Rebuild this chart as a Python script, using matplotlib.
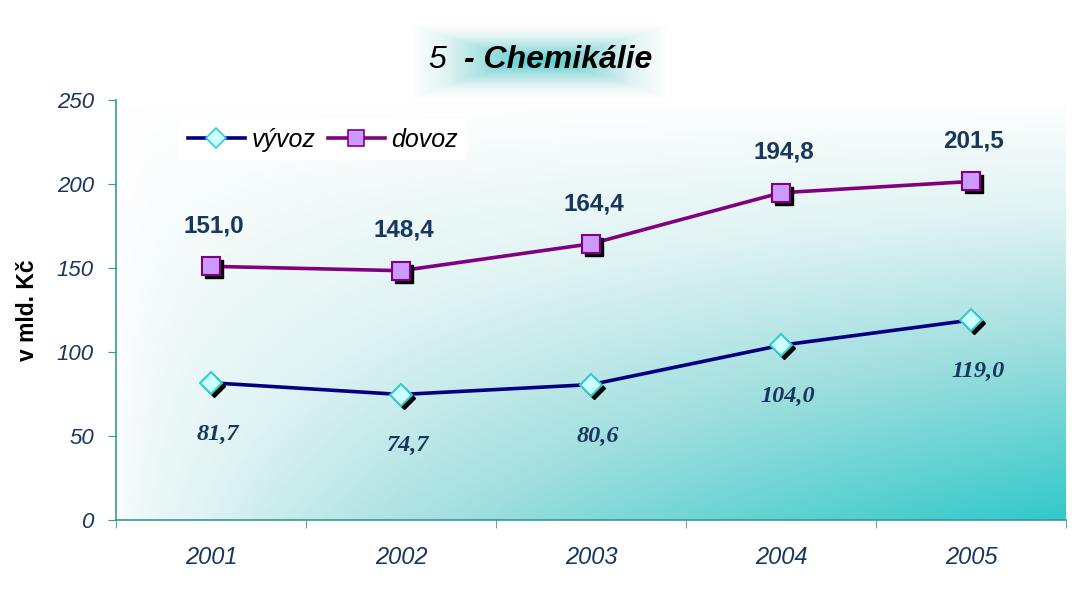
import numpy as np
import matplotlib
matplotlib.use('Agg')
import matplotlib.pyplot as plt
import matplotlib.transforms as mtransforms
from matplotlib.colors import LinearSegmentedColormap

# data
years = ['2001', '2002', '2003', '2004', '2005']
vyvoz = [81.7, 74.7, 80.6, 104.0, 119.0]
dovoz = [151.0, 148.4, 164.4, 194.8, 201.5]
yticks = [0, 50, 100, 150, 200, 250]

navy_txt = '#17375e'
teal_cmap = LinearSegmentedColormap.from_list(
    'teal', [(0, '#ffffff'), (0.3, '#e0f3f3'), (0.6, '#a2dfdf'), (1, '#33c9c9')])

fig = plt.figure(figsize=(10.87, 5.96), dpi=100)
ax = fig.add_axes([116/1087, 1-520/596, 950/1087, 420/596])

# background gradient of the plot area (white top-left -> teal bottom-right)
u = np.linspace(0, 1, 300)
v = np.linspace(0, 1, 200)   # 0 = top, 1 = bottom
U, V = np.meshgrid(u, v)
grad = U**0.5 * V**0.9
ax.imshow(grad, extent=(-0.5, 4.5, 0, 250), aspect='auto', cmap=teal_cmap,
          vmin=0, vmax=1, zorder=0, interpolation='bilinear')

x = np.arange(len(years))

ax.plot(x, vyvoz, color='#000080', lw=2.6, zorder=2)
ax.plot(x, dovoz, color='#800080', lw=2.6, zorder=2)

# black shadows under the markers
shadow = mtransforms.offset_copy(ax.transData, fig=fig, x=3, y=-3, units='dots')
ax.plot(x, vyvoz, ls='none', marker='D', ms=11, color='black', transform=shadow, zorder=3)
ax.plot(x, dovoz, ls='none', marker='s', ms=13, color='black', transform=shadow, zorder=3)

ax.plot(x, vyvoz, ls='none', marker='D', ms=11, mfc='#ccffff', mec='#33cccc', mew=1.5, zorder=4)
ax.plot(x, dovoz, ls='none', marker='s', ms=13, mfc='#cc99ff', mec='#800080', mew=1.5, zorder=4)

# legend proxies
h1, = ax.plot([], [], color='#000080', lw=2.6, marker='D', ms=10, mfc='#ccffff', mec='#33cccc', mew=1.2)
h2, = ax.plot([], [], color='#800080', lw=2.6, marker='s', ms=11, mfc='#cc99ff', mec='#800080', mew=1.2)
leg = ax.legend([h1, h2], ['vývoz', 'dovoz'], loc='upper left',
                bbox_to_anchor=(0.053, 0.985), ncol=2, frameon=True, fancybox=False,
                handlelength=2.3, columnspacing=0.5, handletextpad=0.25, borderpad=0.35,
                prop={'style': 'italic', 'size': 18, 'family': 'Liberation Sans'})
leg.get_frame().set_facecolor('white')
leg.get_frame().set_edgecolor('none')
leg.get_frame().set_alpha(1)

for xi, val in zip(x, dovoz):
    ax.annotate(f'{val:.1f}'.replace('.', ','), (xi, val), xytext=(2, 29), textcoords='offset points',
                ha='center', va='center', fontsize=17.5, fontweight='bold', color=navy_txt,
                family='Liberation Sans', zorder=5)
for xi, val in zip(x, vyvoz):
    ax.annotate(f'{val:.1f}'.replace('.', ','), (xi, val), xytext=(5, -37), textcoords='offset points',
                ha='center', va='center', fontsize=17.5, fontweight='bold', style='italic',
                color=navy_txt, family='Liberation Serif', zorder=5)

ax.set_xlim(-0.5, 4.5)
ax.set_ylim(0, 250)
ax.set_yticks(yticks)
ax.set_yticklabels([str(t) for t in yticks], fontsize=16, style='italic', color=navy_txt,
                   family='Liberation Sans')
ax.set_xticks(x)
ax.set_xticklabels(years, fontsize=17, style='italic', color=navy_txt, family='Liberation Sans')
ax.set_xticks(np.arange(-0.5, 5.0, 1.0), minor=True)
ax.tick_params(axis='x', which='major', length=0, pad=19)
ax.tick_params(axis='x', which='minor', length=6, color='#339999', direction='out')
ax.tick_params(axis='y', length=6, color='#339999', direction='out', pad=10)
for s in ['top', 'right']:
    ax.spines[s].set_visible(False)
for s in ['left', 'bottom']:
    ax.spines[s].set_color('#339999')
    ax.spines[s].set_linewidth(1.2)

fig.text(28/1087, 1-310/596, 'v mld. Kč', rotation=90, ha='center', va='center',
         fontsize=16.5, fontweight='bold', family='Liberation Sans')

# title with a soft teal glow behind it
tax = fig.add_axes([412/1087, 1-100/596, 256/1087, 78/596], zorder=-1)
tu = np.linspace(-1, 1, 256)
tv = np.linspace(-1, 1, 78)
TU, TV = np.meshgrid(tu, tv)
glow = np.clip(1 - np.maximum(np.abs(TU)**1.3, np.abs(TV) * 1.05), 0, 1)
tax.imshow(glow, extent=(0, 1, 0, 1), aspect='auto', cmap=teal_cmap, vmin=0, vmax=1.15,
           interpolation='bilinear')
tax.axis('off')

fig.text(428/1087, 1-60/596, '5', ha='left', va='center', fontsize=23, style='italic',
         family='Liberation Sans')
fig.text(652/1087, 1-60/596, '- Chemikálie', ha='right', va='center', fontsize=23, style='italic',
         fontweight='bold', family='Liberation Sans')

fig.savefig('out.png', dpi=100)
